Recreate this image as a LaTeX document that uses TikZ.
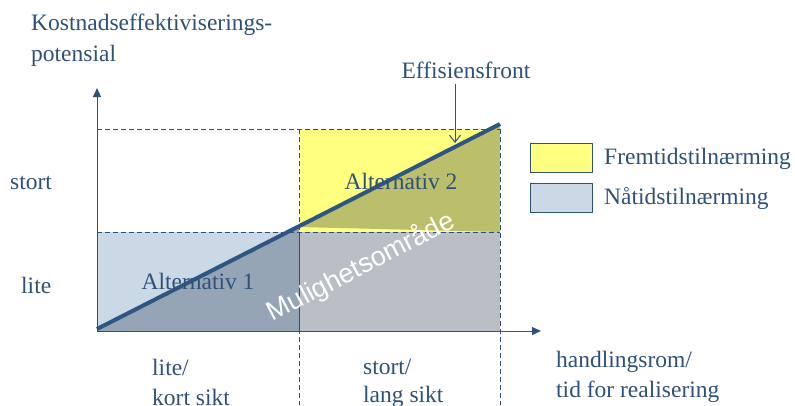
\documentclass[tikz,border=0pt]{standalone}
\usepackage{fontspec}
\setmainfont{Liberation Serif}
\newfontfamily\labelsans{Liberation Sans}
\usetikzlibrary{arrows.meta}
\definecolor{ink}{HTML}{2F5179}
\definecolor{frontline}{HTML}{2E5682}
\definecolor{futurefill}{HTML}{FFFF80}
\definecolor{futuredark}{HTML}{BBBE6B}
\definecolor{nowfill}{HTML}{CBD9E7}
\definecolor{nowdark}{HTML}{95A5B5}
\definecolor{areafill}{HTML}{BABFC6}
\tikzset{
  txt/.style={text=ink, font=\fontsize{23.5}{26}\selectfont, inner sep=0pt},
  txtleft/.style={txt, anchor=west, align=left},
  guide/.style={draw=ink, dashed, dash pattern=on 5pt off 3pt, line width=0.8pt},
  axisline/.style={draw=ink, line width=1pt, -{Triangle[length=9pt,width=8pt]}},
  legendbox/.style={draw=ink, line width=1pt, minimum width=62pt, minimum height=29pt, inner sep=0pt}
}
\begin{document}
\begin{tikzpicture}[x=1pt,y=-1pt]
\useasboundingbox (0,0) rectangle (795,405);
% corner points of the grid
\coordinate (O) at (97,331);
\coordinate (M) at (299,232);
\coordinate (T) at (500,129);
% fills
\fill[nowfill] (97,232) rectangle (299,331);
\fill[nowdark] (97,331) -- (299,227) -- (299,331) -- cycle;
\fill[areafill] (299,232) rectangle (500,331);
\fill[futurefill] (299,129) rectangle (500,232);
\fill[futuredark] (299,227) -- (500,124) -- (500,232) -- cycle;
% dashed guides
\draw[guide] (97,129) -- (500,129);
\draw[guide] (97,232) -- (500,232);
\draw[guide] (299,129) -- (299,405);
\draw[guide] (500,129) -- (500,405);
\draw[draw=ink, line width=0.8pt] (299,232) -- (299,331);
% axes
\coordinate (ytip) at (97,88);
\coordinate (xtip) at (541,331);
\draw[axisline] (O) -- (ytip);
\draw[axisline] (O) -- (xtip);
% efficiency front
\coordinate (fs) at (97,329);
\coordinate (fe) at (500,124);
\draw[frontline, line width=4pt] (fs) -- (fe);
% labels in the plot
\node[txt] (alt2) at (401,181) {Alternativ 2};
\node[txt] (alt1) at (198,281) {Alternativ 1};
\node[text=white, font=\labelsans\fontsize{27}{30}\selectfont, rotate=27.5, inner sep=0pt] (area) at (361,267) {Mulighetsområde};
\node[txt] (front) at (466,70) {Effisiensfront};
\coordinate (fronttip) at (455,143);
\draw[draw=ink, line width=1pt, -{Straight Barb[length=7pt,width=11pt]}] (455,84) -- (fronttip);
% axis labels
\node[txtleft] (ytitle1) at (31,25) {Kostnadseffektiviserings-};
\node[txtleft] (ytitle2) at (31,56) {potensial};
\node[txtleft] (ybig) at (10,183) {stort};
\node[txtleft] (ysmall) at (21,285) {lite};
\node[txtleft] (x1a) at (152,367) {lite/};
\node[txtleft] (x1b) at (152,397) {kort sikt};
\node[txtleft] (x2a) at (363,367) {stort/};
\node[txtleft] (x2b) at (363,397) {lang sikt};
\node[txtleft] (x3a) at (556,362) {handlingsrom/};
\node[txtleft] (x3b) at (556,392) {tid for realisering};
% legend
\node[legendbox, fill=futurefill] (lg1) at (561,158) {};
\node[legendbox, fill=nowfill] (lg2) at (561,198) {};
\node[txtleft] (lg1t) at (604,159) {Fremtidstilnærming};
\node[txtleft] (lg2t) at (604,199) {Nåtidstilnærming};
\end{tikzpicture}
\end{document}
